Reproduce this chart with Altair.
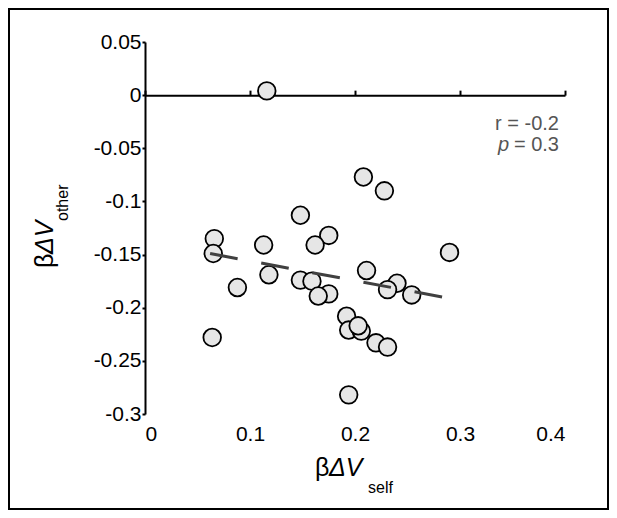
import altair as alt
import pandas as pd

# data
x_self = [0.116, 0.208, 0.228, 0.148, 0.175, 0.066, 0.113, 0.162, 0.065, 0.290,
          0.211, 0.118, 0.148, 0.159, 0.240, 0.088, 0.231, 0.175, 0.165, 0.254,
          0.192, 0.194, 0.206, 0.203, 0.220, 0.231, 0.064, 0.194]
y_other = [0.004, -0.077, -0.090, -0.113, -0.132, -0.135, -0.141, -0.141, -0.149, -0.148,
           -0.165, -0.169, -0.174, -0.175, -0.177, -0.181, -0.183, -0.187, -0.189, -0.188,
           -0.208, -0.221, -0.222, -0.217, -0.233, -0.237, -0.228, -0.282]
fit_x = [0.062, 0.2835]
fit_y = [-0.149, -0.190]
y_ticks = [0.05, 0, -0.05, -0.1, -0.15, -0.2, -0.25, -0.3]
x_ticks = [0, 0.1, 0.2, 0.3, 0.4]

W, H = 420, 372
FONT = "Liberation Sans"
TICK_FS = 21

pts = pd.DataFrame({"x": x_self, "y": y_other})
fit = pd.DataFrame({"x": fit_x, "y": fit_y})

xs = alt.Scale(domain=[0, 0.4], nice=False, zero=False)
ys = alt.Scale(domain=[-0.3, 0.05], nice=False, zero=False)

yaxis = alt.Axis(values=y_ticks, labelExpr="'' + datum.value", title=None, grid=False,
                 domain=True, domainColor="black", domainWidth=2, ticks=True, tickSize=3,
                 tickWidth=2, tickColor="black", labelPadding=1, labelFontSize=TICK_FS,
                 labelFont=FONT, labelColor="black")

points = alt.Chart(pts).mark_circle(size=310, color="#e6e6e6", stroke="black",
                                    strokeWidth=1.8, opacity=1).encode(
    x=alt.X("x:Q", scale=xs,
            axis=alt.Axis(orient="bottom", values=x_ticks, labelExpr="'' + datum.value",
                          title=None, grid=False, domain=False, ticks=False,
                          labelPadding=9, labelFontSize=TICK_FS, labelFont=FONT,
                          labelColor="black")),
    y=alt.Y("y:Q", scale=ys, axis=yaxis),
)

zero_off = -0.05 / 0.35 * H
line = alt.Chart(fit).mark_line(color="#404040", strokeWidth=3, strokeDash=[28, 24],
                                strokeCap="butt").encode(
    x=alt.X("x:Q", scale=xs,
            axis=alt.Axis(orient="top", offset=zero_off, values=x_ticks, labels=False,
                          title=None, grid=False, domain=True, domainColor="black",
                          domainWidth=2, ticks=True, tickSize=5, tickWidth=2,
                          tickColor="black")),
    y=alt.Y("y:Q", scale=ys, axis=yaxis),
)

one = alt.Data(values=[{"a": 1}])


def txt(text, px, py, size, italic=False, angle=0, color="black", align="left"):
    kw = dict(text=text, fontSize=size, font=FONT, color=color, align=align,
              baseline="alphabetic")
    if italic:
        kw["fontStyle"] = "italic"
    if angle:
        kw["angle"] = angle
    return alt.Chart(one).mark_text(**kw).encode(x=alt.value(px), y=alt.value(py))


GRAY = "#555555"
annot = [
    txt("r = -0.2", 414, 88, 20, color=GRAY, align="right"),
    txt("p", 353, 109, 20, italic=True, color=GRAY),
    txt(" = 0.3", 414, 109, 20, color=GRAY, align="right"),
]

xtitle = [
    txt("β", 170, 434, 25),
    txt("ΔV", 184, 434, 25, italic=True),
    txt("self", 223, 451, 16),
]

ytitle = [
    txt("β", -92, 226, 25, angle=270),
    txt("ΔV", -92, 212, 25, italic=True, angle=270),
    txt("other", -77, 179, 16, angle=270),
]

border = alt.Chart(one).mark_rect(fill="transparent", stroke="black", strokeWidth=2).encode(
    x=alt.value(-136), x2=alt.value(W + 43), y=alt.value(-33), y2=alt.value(H + 95)
)

chart = alt.layer(points, line, *annot, *xtitle, *ytitle, border).resolve_axis(
    x="independent"
).properties(
    width=W, height=H,
    autosize=alt.AutoSizeParams(type="none"),
    padding={"left": 137, "top": 34, "right": 44, "bottom": 96},
).configure_view(strokeWidth=0)

chart.save("out.html", embed_options={"renderer": "svg", "actions": False})
